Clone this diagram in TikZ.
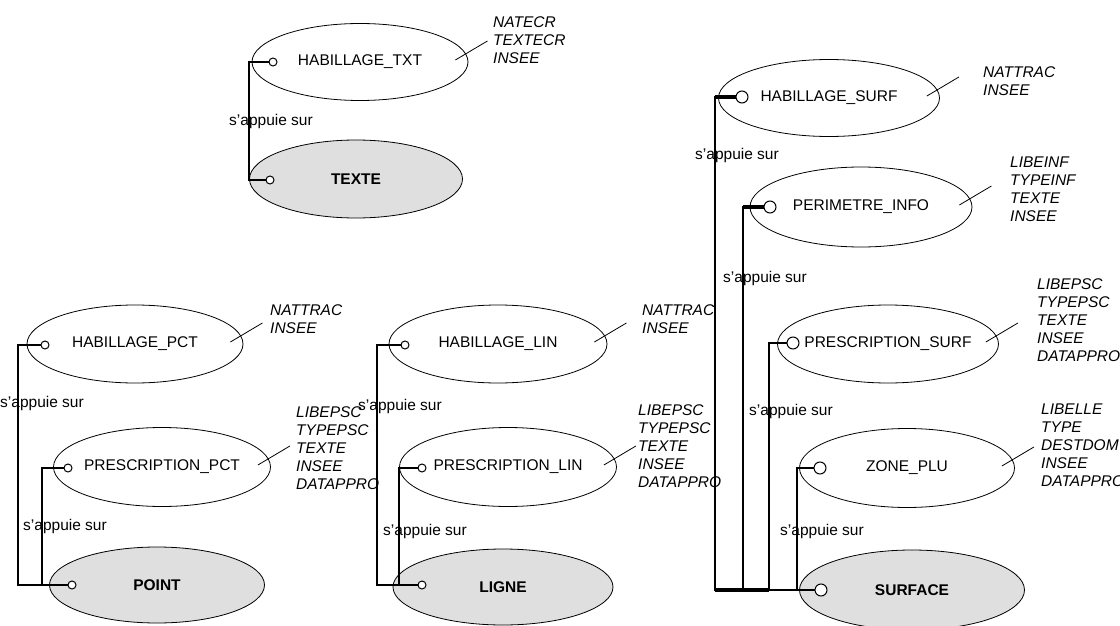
\documentclass[tikz,border=0pt]{standalone}
\usepackage{fontspec}
\setmainfont{Liberation Sans}
\usetikzlibrary{shapes.geometric,positioning}

\newcommand{\ename}[1]{\makebox[0pt]{#1}}

\tikzset{
  entity/.style={draw,ellipse,inner sep=0pt,minimum width=218,minimum height=78,line width=0.8pt},
  base/.style={entity,fill=gray!25,font=\bfseries\fontsize{15.5}{18}\selectfont},
  port/.style={draw,circle,fill=white,inner sep=0pt,minimum size=8,line width=1pt},
  bigport/.style={port,minimum size=12},
  link/.style={line width=1.3pt},
  heavy/.style={line width=4pt},
  tick/.style={line width=0.8pt},
  attr/.style={anchor=north west,inner sep=0pt,align=left,font=\itshape\fontsize{15.5}{18}\selectfont},
  lbl/.style={inner sep=0pt},
}

\begin{document}
\begin{tikzpicture}[x=1pt,y=-1pt,font=\fontsize{15.5}{18}\selectfont]
\useasboundingbox (0,0) rectangle (1120,626);

% texte
\node (htxt) [entity,minimum width=216,minimum height=77] at (360,62) {\ename{HABILLAGE\_TXT}};
\node (texte) [base,minimum width=213] at (356,179) {\ename{TEXTE}};
\node (htxt-p) [port] at (273,62) {};
\node (texte-p) [port] at (270,180) {};
\coordinate (txtbus) at (249,62);
\draw[link] (htxt-p.west) -- (txtbus) |- (texte-p.west);
\node (lbl-txt) [lbl] at (271,121) {s'appuie sur};
\node (attr-htxt) [attr] at (493,16) {NATECR\\TEXTECR\\INSEE};

% point
\node (hpct) [entity,minimum width=216] at (135,344) {\ename{HABILLAGE\_PCT}};
\node (ppct) [entity,minimum width=217,minimum height=79] at (162,467) {\ename{PRESCRIPTION\_PCT}};
\node (point) [base,minimum width=215,minimum height=76] at (157,585) {\ename{POINT}};
\node (hpct-p) [port] at (45,345) {};
\node (ppct-p) [port] at (68,468) {};
\node (point-p) [port] at (72,585) {};
\coordinate (pctbus1) at (18,345);
\coordinate (pctbus2) at (42,468);
\draw[link] (hpct-p.west) -- (pctbus1) |- (point-p.west);
\draw[link] (ppct-p.west) -- (pctbus2) |- (point-p.west);
\node (lbl-pct1) [lbl] at (42,403) {s'appuie sur};
\node (lbl-pct2) [lbl] at (65,526) {s'appuie sur};
\node (attr-hpct) [attr] at (270,304) {NATTRAC\\INSEE};
\node (attr-ppct) [attr] at (296,406) {LIBEPSC\\TYPEPSC\\TEXTE\\INSEE\\DATAPPRO};

% ligne
\node (hlin) [entity] at (498,344) {\ename{HABILLAGE\_LIN}};
\node (plin) [entity,minimum width=217,minimum height=79] at (508,467) {\ename{PRESCRIPTION\_LIN}};
\node (ligne) [base,minimum width=220,minimum height=76] at (503,587) {\ename{LIGNE}};
\node (hlin-p) [port] at (405,345) {};
\node (plin-p) [port] at (422,468) {};
\node (ligne-p) [port] at (422,585) {};
\coordinate (linbus1) at (377,345);
\coordinate (linbus2) at (399,468);
\draw[link] (hlin-p.west) -- (linbus1) |- (ligne-p.west);
\draw[link] (plin-p.west) -- (linbus2) |- (ligne-p.west);
\node (lbl-lin1) [lbl] at (400,406) {s'appuie sur};
\node (lbl-lin2) [lbl] at (425,531) {s'appuie sur};
\node (attr-hlin) [attr] at (642,304) {NATTRAC\\INSEE};
\node (attr-plin) [attr] at (638,404) {LIBEPSC\\TYPEPSC\\TEXTE\\INSEE\\DATAPPRO};

% surface
\node (hsurf) [entity,minimum width=221,minimum height=77] at (829,98) {\ename{HABILLAGE\_SURF}};
\node (perim) [entity,minimum width=222,minimum height=80] at (861,207) {\ename{PERIMETRE\_INFO}};
\node (psurf) [entity,minimum width=221] at (888,344) {\ename{PRESCRIPTION\_SURF}};
\node (zone) [entity,minimum width=215,minimum height=79] at (907,468) {\ename{ZONE\_PLU}};
\node (surface) [base,minimum width=225,minimum height=80] at (912,590) {\ename{SURFACE}};
\node (hsurf-p) [bigport] at (742,97) {};
\node (perim-p) [bigport] at (770,207) {};
\node (psurf-p) [bigport] at (793,343) {};
\node (zone-p) [bigport] at (820,468) {};
\node (surface-p) [bigport] at (821,590) {};
\coordinate (surfbus1) at (715,97);
\coordinate (surfbus2) at (743,207);
\coordinate (surfbus3) at (769,343);
\coordinate (surfbus4) at (797,468);
\draw[link] (hsurf-p.west) -- (surfbus1) |- (surface-p.west);
\draw[link] (perim-p.west) -- (surfbus2) |- (surface-p.west);
\draw[link] (psurf-p.west) -- (surfbus3) |- (surface-p.west);
\draw[link] (zone-p.west) -- (surfbus4) |- (surface-p.west);
\draw[heavy] (hsurf-p.west) -- (surfbus1);
\draw[heavy] (perim-p.west) -- (surfbus2);
\draw[heavy] (surfbus1 |- surface-p) -- (surfbus3 |- surface-p);
\node (lbl-surf1) [lbl] at (737,155) {s'appuie sur};
\node (lbl-surf2) [lbl] at (765,278) {s'appuie sur};
\node (lbl-surf3) [lbl] at (791,411) {s'appuie sur};
\node (lbl-surf4) [lbl] at (822,531) {s'appuie sur};
\node (attr-hsurf) [attr] at (983,66) {NATTRAC\\INSEE};
\node (attr-perim) [attr] at (1010,157) {LIBEINF\\TYPEINF\\TEXTE\\INSEE};
\node (attr-psurf) [attr] at (1037,278) {LIBEPSC\\TYPEPSC\\TEXTE\\INSEE\\DATAPPRO};
\node (attr-zone) [attr] at (1041,404) {LIBELLE\\TYPE\\DESTDOM\\INSEE\\DATAPPRO};

% attribute ticks
\foreach \n in {htxt,hpct,ppct,hlin,plin,hsurf,perim,psurf,zone}
  \draw[tick] ([shift={(-13,-2)}]\n.east) -- ++(32,-19);
\end{tikzpicture}
\end{document}
